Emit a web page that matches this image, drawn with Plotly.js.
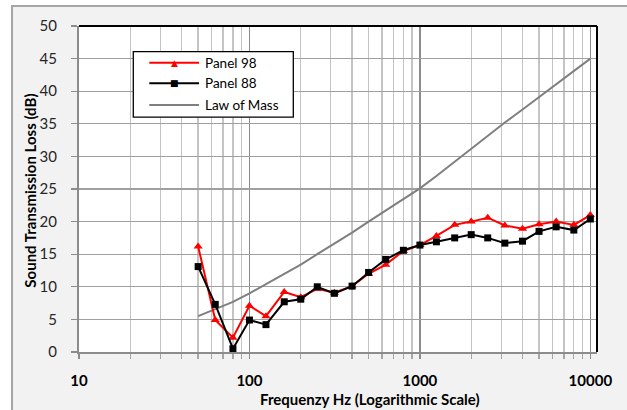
<!DOCTYPE html>
<html>
<head>
<meta charset="utf-8">
<script src="https://cdn.plot.ly/plotly-3.0.1.min.js"></script>
<style>
html,body{margin:0;padding:0;background:#ffffff;}
#chart{width:627px;height:410px;}
</style>
</head>
<body>
<div id="chart"></div>
<script>
// Third-octave band centre frequencies (Hz)
const frequencies = [50, 63, 80, 100, 125, 160, 200, 250, 315, 400, 500, 630, 800, 1000, 1250, 1600, 2000, 2500, 3150, 4000, 5000, 6300, 8000, 10000];
// Sound transmission loss (dB)
const panel98 = [16.2, 4.9, 2.2, 7.1, 5.5, 9.2, 8.4, 9.7, 9.1, 10.1, 12.0, 13.4, 15.5, 16.4, 17.8, 19.5, 20.0, 20.6, 19.4, 18.9, 19.6, 20.0, 19.5, 21.0];
const panel88 = [13.1, 7.3, 0.5, 4.9, 4.2, 7.7, 8.1, 10.0, 9.0, 10.1, 12.2, 14.2, 15.6, 16.4, 16.9, 17.5, 18.0, 17.5, 16.7, 17.0, 18.5, 19.2, 18.7, 20.4];
const lawOfMass = [5.5, 6.6, 7.7, 9.0, 10.4, 11.9, 13.4, 15.0, 16.6, 18.3, 20.0, 21.7, 23.4, 25.1, 27.0, 29.2, 31.1, 33.1, 35.2, 37.2, 39.1, 41.1, 43.1, 45.0];
const xTickVals = [10, 100, 1000, 10000];
const xTickText = ["10", "100", "1000", "10000"];
const seriesNames = ["Panel 98", "Panel 88", "Law of Mass"];
const seriesColors = ["#ff0000", "#000000", "#7f7f7f"];

const FONT = "Lato, 'Liberation Sans', sans-serif";

const traces = [
  {
    x: frequencies, y: lawOfMass, name: seriesNames[2], type: "scatter", mode: "lines",
    line: {color: seriesColors[2], width: 2}
  },
  {
    x: frequencies, y: panel98, name: seriesNames[0], type: "scatter", mode: "lines+markers",
    line: {color: seriesColors[0], width: 2},
    marker: {symbol: "triangle-up", size: 8, color: seriesColors[0]}
  },
  {
    x: frequencies, y: panel88, name: seriesNames[1], type: "scatter", mode: "lines+markers",
    line: {color: seriesColors[1], width: 2},
    marker: {symbol: "square", size: 7, color: seriesColors[1]}
  }
];

// Manual legend (box, line samples, symbols, labels) in paper coordinates
const legBox = {x0: 0.1048, x1: 0.4137, y0: 0.7204, y1: 0.9213};
const legRows = [0.8876, 0.8245, 0.7580];
const legLineX = [0.1357, 0.2317];
const legSymX = 0.1834;
const legTextX = 0.2388;
const legSymbols = ["▲", "■", ""];

const shapes = [
  {type: "rect", xref: "paper", yref: "paper", layer: "below",
   x0: -0.1293, x1: 1.09, y0: -0.22, y1: 1.0613,
   fillcolor: "#f2f2f2", line: {color: "#a6a6a6", width: 2}},
  {type: "rect", xref: "paper", yref: "paper", layer: "below",
   x0: 0, x1: 1, y0: 0, y1: 1, fillcolor: "#ffffff", line: {width: 0}},
  {type: "line", xref: "paper", yref: "paper", x0: 0, x1: 1, y0: 1, y1: 1,
   line: {color: "#000000", width: 2}},
  {type: "line", xref: "paper", yref: "paper", x0: 1, x1: 1, y0: 0, y1: 1,
   line: {color: "#000000", width: 2}},
  {type: "rect", xref: "paper", yref: "paper", layer: "above",
   x0: legBox.x0, x1: legBox.x1, y0: legBox.y0, y1: legBox.y1,
   fillcolor: "#ffffff", line: {color: "#000000", width: 1.3}}
];
const annotations = [
  {text: "Frequenzy Hz (Logarithmic Scale)", xref: "paper", yref: "paper",
   x: 0.5618, y: -0.143, xanchor: "center", yanchor: "middle", showarrow: false,
   font: {family: FONT, size: 15, weight: "bold", color: "#000000"}},
  {text: "Sound Transmission Loss (dB)", xref: "paper", yref: "paper",
   x: -0.0946, y: 0.495, xanchor: "center", yanchor: "middle", showarrow: false,
   textangle: -90,
   font: {family: FONT, size: 15, weight: "bold", color: "#000000"}}
];
seriesNames.forEach((name, i) => {
  shapes.push({type: "line", xref: "paper", yref: "paper", layer: "above",
    x0: legLineX[0], x1: legLineX[1], y0: legRows[i], y1: legRows[i],
    line: {color: seriesColors[i], width: 2}});
  if (legSymbols[i]) {
    annotations.push({text: legSymbols[i], xref: "paper", yref: "paper",
      x: legSymX, y: legRows[i], xanchor: "center", yanchor: "middle", showarrow: false,
      font: {family: "DejaVu Sans", size: 9, color: seriesColors[i]}});
  }
  annotations.push({text: name, xref: "paper", yref: "paper",
    x: legTextX, y: legRows[i], xanchor: "left", yanchor: "middle", showarrow: false,
    font: {family: FONT, size: 13.5, color: "#000000"}});
});

const layout = {
  width: 627, height: 410,
  margin: {l: 79, r: 30, t: 26, b: 57.5, pad: 0},
  paper_bgcolor: "#ffffff",
  plot_bgcolor: "#ffffff",
  font: {family: FONT, size: 14, color: "#262626"},
  showlegend: false,
  xaxis: {
    type: "log",
    range: [1, 4.039],
    tickmode: "array", tickvals: xTickVals, ticktext: xTickText,
    tickfont: {family: FONT, size: 15, weight: "bold", color: "#000000"},
    ticks: "outside", ticklen: 5, tickcolor: "#8c8c8c", tickwidth: 1.3,
    ticklabelstandoff: 9,
    showgrid: true, gridcolor: "#8c8c8c", gridwidth: 1.5,
    minor: {dtick: "D1", showgrid: true, gridcolor: "#c4c4c4", gridwidth: 1.3,
            ticks: "outside", ticklen: 5, tickcolor: "#a6a6a6", tickwidth: 1.3},
    showline: true, linecolor: "#8c8c8c", linewidth: 2,
    zeroline: false, fixedrange: true
  },
  yaxis: {
    range: [0, 50], dtick: 5, tick0: 0,
    tickfont: {family: FONT, size: 15, color: "#262626"},
    ticks: "outside", ticklen: 6, tickcolor: "#8c8c8c", tickwidth: 1.3,
    ticklabelstandoff: 11,
    showgrid: true, gridcolor: "#a0a0a0", gridwidth: 1.3,
    showline: true, linecolor: "#8c8c8c", linewidth: 2,
    zeroline: false, fixedrange: true
  },
  shapes: shapes,
  annotations: annotations
};

Plotly.newPlot("chart", traces, layout, {staticPlot: true, displayModeBar: false});
</script>
</body>
</html>
